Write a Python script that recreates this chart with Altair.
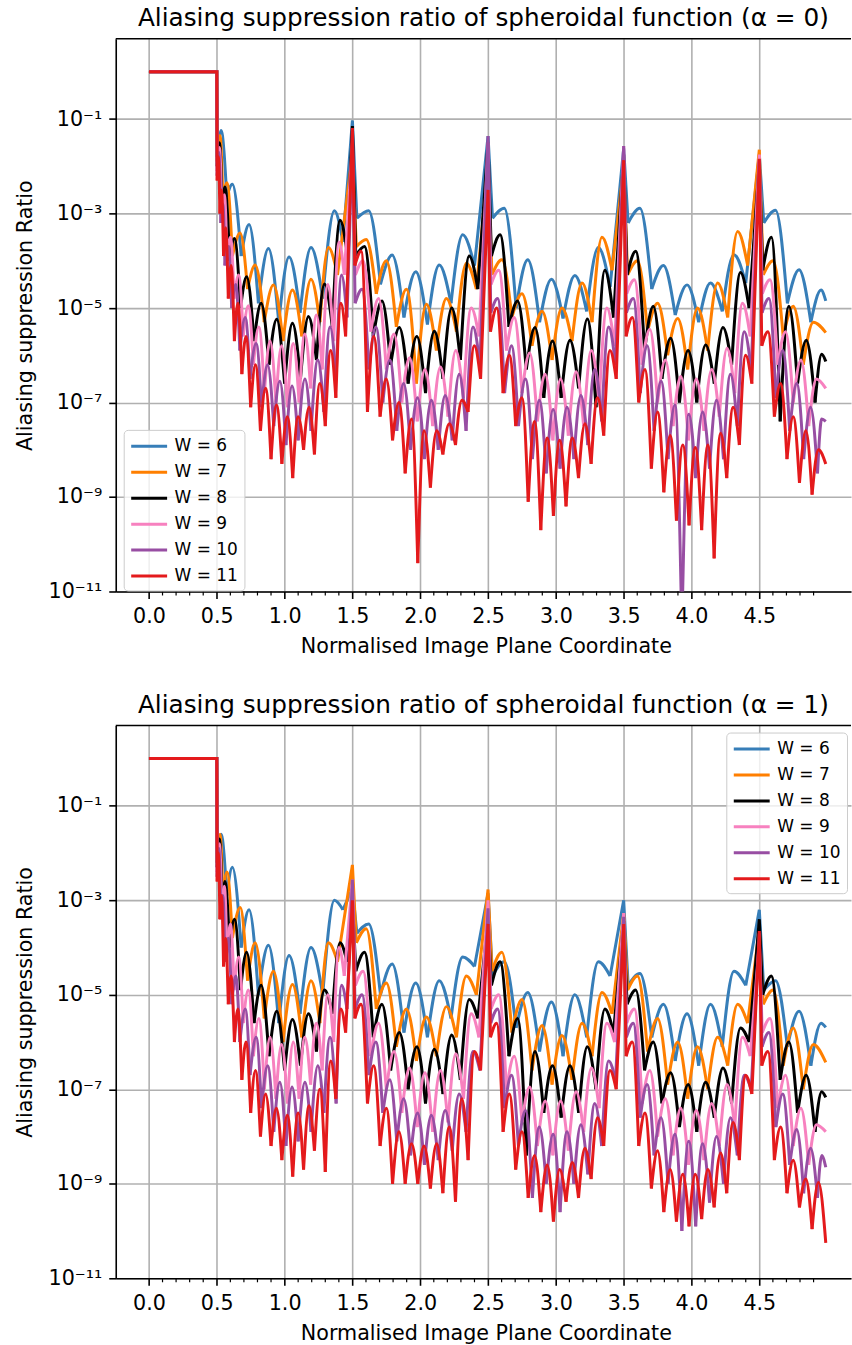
import altair as alt
import pandas as pd

FONT = "DejaVu Sans"
W_LIST = [6, 7, 8, 9, 10, 11]
LABELS = ["W = 6", "W = 7", "W = 8", "W = 9", "W = 10", "W = 11"]
COLORS = ["#377eb8", "#ff7f00", "#000000", "#f781bf", "#984ea3", "#e41a1c"]
TITLES = ["Aliasing suppression ratio of spheroidal function (α = 0)",
          "Aliasing suppression ratio of spheroidal function (α = 1)"]
X_TITLE = "Normalised Image Plane Coordinate"
Y_TITLE = "Aliasing suppression Ratio"
X_TICKS = [0.0, 0.5, 1.0, 1.5, 2.0, 2.5, 3.0, 3.5, 4.0, 4.5]
X_MINOR = [0.1, 0.2, 0.3, 0.4, 0.6, 0.7, 0.8, 0.9, 1.1, 1.2, 1.3, 1.4, 1.6, 1.7, 1.8, 1.9,
           2.1, 2.2, 2.3, 2.4, 2.6, 2.7, 2.8, 2.9, 3.1, 3.2, 3.3, 3.4, 3.6, 3.7, 3.8, 3.9,
           4.1, 4.2, 4.3, 4.4, 4.6, 4.7, 4.8, 4.9]
Y_TICKS = [1e-11, 1e-9, 1e-7, 1e-5, 1e-3, 1e-1]
Y_LABELS = ["10⁻¹¹", "10⁻⁹", "10⁻⁷", "10⁻⁵", "10⁻³", "10⁻¹"]
SPIKE_X = [1.5, 2.5, 3.5, 4.5]

# flat part before the drop (log10 of the ratio)
HEAD_X = [0.0, 0.5]
HEAD_LOG = [0.0, 0.0]

# vertex positions (null, peak, null, peak, ...), per kernel width
X6 = [0.503, 0.532, 0.574, 0.615, 0.68, 0.738, 0.807, 0.881, 0.957, 1.033, 1.114, 1.195, 1.281, 1.367, 1.43, 1.5,
      1.533, 1.620, 1.707, 1.793, 1.880, 1.967, 2.053, 2.140, 2.227, 2.313, 2.400, 2.5,
      2.533, 2.620, 2.707, 2.793, 2.880, 2.967, 3.053, 3.140, 3.227, 3.313, 3.400, 3.5,
      3.533, 3.620, 3.707, 3.793, 3.880, 3.967, 4.053, 4.140, 4.227, 4.313, 4.400, 4.5,
      4.533, 4.620, 4.707, 4.793, 4.880, 4.955, 4.99]
X7 = [0.503, 0.524, 0.545, 0.575, 0.615, 0.672, 0.727, 0.783, 0.85, 0.918, 0.988, 1.058, 1.127, 1.195, 1.26, 1.323, 1.39, 1.5,
      1.529, 1.602, 1.676, 1.750, 1.824, 1.898, 1.972, 2.045, 2.119, 2.193, 2.267, 2.340, 2.414, 2.5,
      2.529, 2.602, 2.676, 2.750, 2.824, 2.898, 2.972, 3.045, 3.119, 3.193, 3.267, 3.340, 3.414, 3.5,
      3.529, 3.602, 3.676, 3.750, 3.824, 3.898, 3.972, 4.045, 4.119, 4.193, 4.267, 4.340, 4.414, 4.5,
      4.529, 4.602, 4.676, 4.750, 4.824, 4.898, 4.99]
X8 = [0.503, 0.52, 0.54, 0.56, 0.595, 0.63, 0.675, 0.72, 0.775, 0.827, 0.885, 0.942, 1.0, 1.058, 1.117, 1.176, 1.235, 1.294, 1.352, 1.409, 1.46, 1.5,
      1.525, 1.589, 1.654, 1.718, 1.782, 1.846, 1.911, 1.975, 2.039, 2.104, 2.168, 2.232, 2.296, 2.361, 2.425, 2.5,
      2.525, 2.589, 2.654, 2.718, 2.782, 2.846, 2.911, 2.975, 3.039, 3.104, 3.168, 3.232, 3.296, 3.361, 3.425, 3.5,
      3.525, 3.589, 3.654, 3.718, 3.782, 3.846, 3.911, 3.975, 4.039, 4.104, 4.168, 4.232, 4.296, 4.361, 4.425, 4.5,
      4.525, 4.589, 4.654, 4.718, 4.782, 4.846, 4.911, 4.96, 4.99]
X9 = [0.503, 0.52, 0.537, 0.556, 0.575, 0.601, 0.628, 0.661, 0.695, 0.732, 0.77, 0.81, 0.851, 0.893, 0.936, 0.978, 1.021, 1.064,
      1.107, 1.149, 1.192, 1.234, 1.277, 1.319, 1.362, 1.401, 1.44, 1.5,
      1.522, 1.579, 1.636, 1.693, 1.750, 1.807, 1.864, 1.921, 1.978, 2.035, 2.092, 2.149, 2.205, 2.262, 2.319, 2.376, 2.433, 2.5,
      2.522, 2.579, 2.636, 2.693, 2.750, 2.807, 2.864, 2.921, 2.978, 3.035, 3.092, 3.149, 3.205, 3.262, 3.319, 3.376, 3.433, 3.5,
      3.522, 3.579, 3.636, 3.693, 3.750, 3.807, 3.864, 3.921, 3.978, 4.035, 4.092, 4.149, 4.205, 4.262, 4.319, 4.376, 4.433, 4.5,
      4.522, 4.579, 4.636, 4.693, 4.750, 4.807, 4.864, 4.921, 4.99]
X10 = [0.503, 0.515, 0.53, 0.545, 0.56, 0.585, 0.61, 0.64, 0.67, 0.71, 0.745, 0.79, 0.83, 0.875, 0.92, 0.965, 1.01, 1.055,
       1.10, 1.15, 1.195, 1.245, 1.29, 1.335, 1.38, 1.42, 1.46, 1.5,
       1.520, 1.571, 1.622, 1.673, 1.724, 1.776, 1.827, 1.878, 1.929, 1.980, 2.031, 2.082, 2.133, 2.184, 2.236, 2.287, 2.338, 2.389, 2.440, 2.5,
       2.520, 2.571, 2.622, 2.673, 2.724, 2.776, 2.827, 2.878, 2.929, 2.980, 3.031, 3.082, 3.133, 3.184, 3.236, 3.287, 3.338, 3.389, 3.440, 3.5,
       3.520, 3.571, 3.622, 3.673, 3.724, 3.776, 3.827, 3.878, 3.929, 3.980, 4.031, 4.082, 4.133, 4.184, 4.236, 4.287, 4.338, 4.389, 4.440, 4.5,
       4.520, 4.571, 4.622, 4.673, 4.724, 4.776, 4.827, 4.878, 4.929, 4.96, 4.99]
X11 = [0.503, 0.512, 0.523, 0.535, 0.55, 0.565, 0.585, 0.605, 0.63, 0.655, 0.685, 0.715, 0.75, 0.785, 0.822, 0.86, 0.9, 0.94,
       0.98, 1.02, 1.06, 1.1, 1.14, 1.18, 1.22, 1.26, 1.30, 1.34, 1.378, 1.415, 1.45, 1.5,
       1.518, 1.564, 1.611, 1.657, 1.704, 1.750, 1.796, 1.843, 1.889, 1.936, 1.982, 2.028, 2.075, 2.121, 2.167, 2.214, 2.260, 2.307, 2.353, 2.399, 2.445, 2.5,
       2.518, 2.564, 2.611, 2.657, 2.704, 2.750, 2.796, 2.843, 2.889, 2.936, 2.982, 3.028, 3.075, 3.121, 3.167, 3.214, 3.260, 3.307, 3.353, 3.399, 3.445, 3.5,
       3.518, 3.564, 3.611, 3.657, 3.704, 3.750, 3.796, 3.843, 3.889, 3.936, 3.982, 4.028, 4.075, 4.121, 4.167, 4.214, 4.260, 4.307, 4.353, 4.399, 4.445, 4.5,
       4.518, 4.564, 4.611, 4.657, 4.704, 4.750, 4.796, 4.843, 4.889, 4.936, 4.99]

# log10 of the ratio at those vertices, alpha = 0 (top panel)
TOP6 = [-1.8, -1.24, -2.65, -2.38, -3.9, -3.23, -4.9, -3.74, -5.3, -3.92, -5.1, -3.72, -4.8, -2.94, -3.6, -1.03,
        -3.1, -2.94, -4.5, -3.88, -5.2, -4.23, -5.35, -4.09, -4.9, -3.45, -4.1, -1.36,
        -3.1, -2.89, -5.0, -3.98, -5.3, -4.39, -5.22, -4.31, -5.07, -3.72, -4.55, -1.62,
        -3.2, -2.89, -4.6, -4.1, -5.15, -4.51, -5.3, -4.47, -5.07, -3.87, -4.47, -1.75,
        -3.2, -2.93, -4.9, -4.19, -5.3, -4.62, -4.85]
TOP7 = [-1.9, -1.35, -2.7, -2.35, -3.9, -3.41, -4.6, -4.09, -5.3, -4.51, -5.7, -4.62, -5.6, -4.39, -5.3, -3.72, -4.3, -1.74,
        -3.7, -3.55, -4.7, -4.0, -5.4, -4.6, -6.6, -4.92, -5.9, -4.8, -5.5, -4.05, -4.6, -1.98,
        -4.3, -3.98, -5.2, -4.7, -5.8, -5.07, -6.1, -5.0, -5.7, -4.47, -5.3, -3.5, -4.2, -2.0,
        -4.3, -4.0, -5.5, -4.9, -6.0, -5.22, -6.3, -5.0, -5.9, -4.47, -5.2, -3.38, -4.1, -1.65,
        -4.3, -4.0, -5.6, -4.96, -6.2, -5.3, -5.52]
TOP8 = [-2.0, -1.5, -2.9, -2.44, -4.0, -3.53, -5.0, -4.34, -5.7, -4.9, -6.2, -5.24, -6.6, -5.32, -6.5, -5.18, -6.1, -4.49, -5.4, -3.14, -3.8, -1.15,
        -3.9, -3.7, -5.6, -4.85, -6.2, -5.41, -6.6, -5.6, -6.8, -5.49, -6.5, -5.0, -6.1, -3.9, -4.6, -1.5,
        -3.9, -3.45, -5.4, -4.85, -6.3, -5.41, -6.9, -5.7, -6.9, -5.68, -6.7, -5.23, -7.1, -4.2, -5.2, -1.75,
        -4.3, -3.8, -5.9, -4.96, -6.5, -5.64, -7.0, -5.9, -7.0, -5.78, -6.6, -5.41, -6.2, -4.25, -5.0, -1.9,
        -4.2, -3.5, -7.4, -4.96, -6.6, -5.68, -7.0, -5.98, -6.13]
TOP9 = [-2.1, -1.6, -3.0, -2.6, -3.9, -3.5, -4.8, -4.3, -5.6, -4.95, -6.2, -5.4, -6.8, -5.7, -7.0, -5.8, -7.1, -5.75,
        -7.0, -5.55, -6.7, -5.15, -6.3, -4.5, -5.7, -3.6, -4.3, -1.5,
        -4.3, -4.0, -5.5, -4.8, -6.3, -5.55, -7.0, -6.05, -7.4, -6.3, -7.5, -6.25, -7.3, -5.9, -6.9, -5.0, -5.6, -1.5,
        -4.5, -4.2, -5.9, -5.2, -6.8, -5.95, -7.4, -6.4, -7.8, -6.5, -7.7, -6.35, -7.5, -5.9, -7.0, -5.0, -5.8, -1.57,
        -4.7, -4.4, -6.2, -5.45, -7.0, -6.1, -7.5, -6.45, -7.8, -6.5, -7.6, -6.3, -7.3, -5.85, -6.8, -4.9, -5.6, -1.75,
        -4.7, -4.4, -6.2, -5.5, -7.0, -6.1, -7.5, -6.5, -6.7]
TOP10 = [-2.2, -1.7, -3.2, -2.8, -4.1, -3.7, -5.0, -4.5, -5.9, -5.2, -6.5, -5.75, -7.1, -6.2, -7.5, -6.55, -7.9, -6.65,
         -7.8, -6.5, -7.6, -6.1, -7.2, -5.4, -6.5, -4.3, -5.2, -1.4,
         -4.9, -4.6, -6.3, -5.4, -7.0, -6.1, -7.6, -6.6, -8.0, -6.9, -8.2, -6.95, -8.0, -6.85, -7.8, -6.4, -7.6, -5.4, -6.2, -1.36,
         -5.1, -4.8, -6.8, -5.8, -7.5, -6.5, -8.2, -6.95, -8.5, -7.15, -8.4, -7.1, -8.2, -6.85, -7.9, -6.3, -7.4, -5.4, -6.2, -1.57,
         -5.1, -4.8, -6.8, -5.8, -7.6, -6.55, -8.2, -7.05, -11.8, -7.25, -8.6, -7.2, -8.4, -6.95, -8.2, -6.4, -7.5, -5.5, -6.3, -1.85,
         -5.1, -4.8, -6.9, -5.9, -7.6, -6.6, -8.2, -7.1, -8.5, -7.35, -7.4]
TOP11 = [-2.3, -1.8, -3.0, -2.5, -3.9, -3.3, -4.8, -4.1, -5.7, -4.9, -6.4, -5.6, -7.1, -6.2, -7.6, -6.7, -8.2, -7.05,
         -8.3, -7.3, -8.6, -7.3, -8.0, -7.1, -8.1, -6.6, -7.5, -5.9, -6.9, -4.9, -5.6, -1.19,
         -4.1, -3.8, -7.2, -5.6, -7.3, -6.5, -7.8, -7.0, -8.5, -7.35, -10.4, -7.6, -8.8, -7.6, -8.1, -7.45, -7.9, -6.95, -7.2, -5.8, -6.5, -2.5,
         -5.5, -5.0, -6.8, -6.0, -7.5, -6.9, -9.1, -7.4, -9.7, -7.75, -9.4, -7.8, -9.2, -7.75, -8.6, -7.45, -8.3, -6.9, -7.7, -5.9, -6.5, -1.87,
         -5.6, -5.2, -7.0, -6.3, -8.4, -7.2, -8.9, -7.7, -9.5, -7.9, -9.6, -7.95, -9.7, -7.9, -10.3, -7.65, -8.6, -7.1, -7.9, -6.0, -6.6, -1.84,
         -5.8, -5.5, -7.3, -6.6, -8.2, -7.3, -8.7, -7.6, -8.95, -8.0, -8.3]

# log10 of the ratio at those vertices, alpha = 1 (bottom panel)
BOT6 = [-2.2, -1.6, -2.9, -2.3, -4.0, -3.2, -5.0, -3.95, -5.6, -4.17, -5.4, -4.0, -5.0, -3.0, -3.2, -2.75,
        -3.7, -3.5, -5.0, -4.35, -5.8, -4.75, -5.9, -4.7, -5.5, -4.2, -4.4, -2.85,
        -4.6, -4.3, -5.7, -4.95, -6.2, -5.15, -6.3, -5.0, -5.9, -4.3, -4.6, -3.0,
        -4.8, -4.55, -5.9, -5.2, -6.4, -5.4, -6.5, -5.2, -6.1, -4.5, -4.8, -3.2,
        -4.9, -4.7, -6.1, -5.35, -6.5, -5.6, -5.69]
BOT7 = [-2.2, -1.6, -2.9, -2.4, -3.8, -3.15, -4.7, -3.9, -5.5, -4.5, -6.0, -4.78, -5.9, -4.7, -5.6, -3.9, -4.3, -2.25,
        -3.9, -3.6, -5.3, -4.75, -6.1, -5.3, -6.4, -5.47, -6.3, -5.25, -5.9, -4.6, -5.0, -2.77,
        -4.5, -4.1, -5.8, -5.1, -6.6, -5.65, -6.9, -5.86, -6.8, -5.6, -6.3, -4.95, -5.4, -3.27,
        -4.9, -4.6, -6.2, -5.5, -6.9, -6.0, -7.2, -6.1, -7.0, -5.9, -6.5, -5.2, -5.6, -3.6,
        -5.2, -4.9, -6.5, -5.7, -7.0, -6.05, -6.43]
BOT8 = [-2.3, -1.7, -3.1, -2.6, -4.0, -3.4, -4.9, -4.1, -5.6, -4.8, -6.3, -5.35, -6.6, -5.52, -6.5, -5.4, -6.2, -4.9, -5.4, -3.9, -4.3, -3.0,
        -4.5, -4.1, -5.9, -5.2, -6.6, -5.8, -7.0, -6.1, -7.3, -6.15, -7.1, -5.85, -6.8, -5.1, -5.5, -3.4,
        -4.8, -4.3, -6.3, -5.5, -8.4, -6.2, -7.5, -6.5, -7.6, -6.5, -7.5, -6.1, -7.0, -5.3, -5.8, -3.44,
        -5.2, -4.9, -6.6, -6.0, -7.3, -6.65, -7.8, -6.9, -7.9, -6.85, -7.6, -6.55, -7.3, -5.7, -6.0, -3.4,
        -5.0, -4.6, -6.8, -6.0, -7.5, -6.7, -7.9, -7.05, -7.17]
BOT9 = [-2.4, -1.8, -3.2, -2.7, -4.1, -3.5, -4.9, -4.2, -5.6, -4.9, -6.3, -5.5, -7.0, -5.9, -7.2, -6.05, -7.3, -6.0,
        -7.2, -5.9, -6.9, -5.6, -6.6, -5.0, -6.0, -4.0, -4.6, -2.56,
        -4.8, -4.5, -6.3, -5.6, -7.0, -6.2, -7.5, -6.55, -7.8, -6.65, -7.9, -6.6, -7.7, -6.25, -7.2, -5.4, -5.9, -3.0,
        -5.3, -5.0, -7.0, -6.3, -7.7, -6.95, -8.2, -7.25, -8.4, -7.25, -8.3, -7.05, -7.9, -6.55, -7.4, -5.6, -6.0, -3.27,
        -5.6, -5.3, -7.3, -6.6, -8.0, -7.2, -8.4, -7.4, -8.6, -7.45, -8.5, -7.3, -8.2, -6.9, -7.8, -5.9, -6.3, -3.9,
        -5.8, -5.5, -7.4, -6.7, -8.2, -7.4, -8.6, -7.75, -7.9]
BOT10 = [-2.5, -1.9, -3.4, -2.9, -4.3, -3.8, -5.2, -4.6, -6.0, -5.3, -6.7, -5.9, -7.4, -6.5, -7.9, -6.85, -8.2, -6.95,
         -8.1, -6.85, -7.9, -6.5, -7.5, -5.9, -7.3, -4.8, -5.3, -2.56,
         -5.3, -5.0, -6.7, -6.0, -7.5, -6.8, -8.1, -7.2, -8.4, -7.5, -8.6, -7.55, -8.5, -7.45, -8.3, -7.1, -7.9, -6.2, -6.6, -3.17,
         -5.6, -5.3, -7.4, -6.7, -8.2, -7.45, -9.3, -7.8, -9.0, -7.95, -9.6, -7.9, -9.0, -7.75, -8.8, -7.3, -8.2, -6.4, -6.8, -3.35,
         -5.9, -5.6, -7.6, -6.9, -8.4, -7.6, -9.0, -7.95, -10.0, -8.1, -9.9, -8.15, -9.4, -8.0, -9.0, -7.6, -8.4, -6.7, -7.0, -3.7,
         -6.1, -5.8, -7.8, -7.1, -8.6, -7.85, -9.2, -8.25, -9.3, -8.4, -8.65]
BOT11 = [-2.6, -2.0, -3.4, -2.9, -4.4, -3.8, -5.2, -4.6, -6.0, -5.3, -6.8, -6.0, -7.5, -6.6, -8.0, -7.1, -8.2, -7.4,
         -8.5, -7.55, -8.85, -7.5, -8.7, -7.35, -8.3, -7.0, -8.75, -6.4, -7.2, -5.3, -5.8, -3.0,
         -5.5, -5.2, -7.3, -6.5, -8.2, -7.4, -9.0, -7.9, -9.0, -8.15, -9.0, -8.2, -9.1, -8.15, -9.2, -7.8, -9.38, -7.2, -8.5, -6.2, -6.6, -3.5,
         -5.9, -5.6, -7.9, -7.1, -8.7, -7.9, -9.3, -8.4, -9.6, -8.6, -9.8, -8.7, -9.38, -8.55, -9.3, -8.25, -8.9, -7.6, -8.2, -6.6, -7.0, -3.5,
         -6.3, -6.0, -8.2, -7.5, -9.1, -8.3, -9.6, -8.7, -9.8, -8.8, -9.9, -8.8, -9.75, -8.7, -9.5, -8.35, -9.2, -7.7, -8.5, -6.7, -7.1, -3.65,
         -6.5, -6.2, -8.5, -7.8, -9.2, -8.5, -9.5, -8.9, -9.96, -8.97, -10.25]

X_ALL = [X6, X7, X8, X9, X10, X11]
TOP_ALL = [TOP6, TOP7, TOP8, TOP9, TOP10, TOP11]
BOT_ALL = [BOT6, BOT7, BOT8, BOT9, BOT10, BOT11]

PLOT_W, PLOT_H = 737, 554
X_DOMAIN = [-0.245, 5.176]
Y_DOMAIN = [1e-11, 5]


def panel_rows(values):
    rows = []
    for w, lab, xs, vs in zip(W_LIST, LABELS, X_ALL, values):
        if len(xs) != len(vs):
            raise ValueError(f"length mismatch for W={w}: {len(xs)} vs {len(vs)}")
        hx = HEAD_X + [xs[0]]
        hv = HEAD_LOG + [vs[0]]
        for k in range(3):
            rows.append({"W": lab, "seg": f"{w}-h", "kind": "lin", "o": k, "x": hx[k], "y": 10 ** hv[k]})
        for i in range(1, len(xs) - 1, 2):
            kind = "lin" if xs[i] in SPIKE_X else "mono"
            for k in range(3):
                rows.append({"W": lab, "seg": f"{w}-{i}", "kind": kind, "o": k,
                             "x": xs[i - 1 + k], "y": 10 ** vs[i - 1 + k]})
    return pd.DataFrame(rows)


parts = [f"datum.value < {v * 3:.0e} ? '{lab}'" for v, lab in zip(Y_TICKS[:-1], Y_LABELS[:-1])]
LABEL_EXPR = " : ".join(parts) + f" : '{Y_LABELS[-1]}'"

x_axis = alt.Axis(values=X_TICKS, format=".1f", title=X_TITLE, labelFont=FONT, titleFont=FONT,
                  labelFontSize=20.7, titleFontSize=20.7, titleFontWeight="normal",
                  labelColor="black", titleColor="black", tickColor="black", tickSize=7, tickWidth=1.6,
                  domainColor="black", domainWidth=1.6, grid=True, gridColor="#b0b0b0", gridWidth=1.6,
                  labelBaseline="alphabetic", labelPadding=24.5, labelFlush=False, labelOverlap=False,
                  minExtent=32, maxExtent=32, titlePadding=29, titleBaseline="alphabetic", titleX=371)
y_axis = alt.Axis(values=Y_TICKS, labelExpr=LABEL_EXPR, title=Y_TITLE, labelFont=FONT, titleFont=FONT,
                  labelFontSize=20.7, titleFontSize=20.7, titleFontWeight="normal",
                  labelColor="black", titleColor="black", tickColor="black", tickSize=7, tickWidth=1.6,
                  domainColor="black", domainWidth=1.6, grid=True, gridColor="#b0b0b0", gridWidth=1.6,
                  labelPadding=7, labelFlush=False, labelOverlap=False, labelBaseline="middle",
                  minExtent=69, maxExtent=69, titlePadding=15, titleBaseline="alphabetic")

X_SCALE = alt.Scale(domain=X_DOMAIN, nice=False, zero=False)


def panel(values, title, lx, ly):
    df = panel_rows(values)
    leg = alt.Legend(title=None, orient="none", legendX=lx, legendY=ly, direction="vertical",
                     fillColor="rgba(255,255,255,0.8)", strokeColor="#cccccc", cornerRadius=4,
                     padding=6, labelFont=FONT, labelFontSize=17, labelColor="black",
                     symbolType="M-2,0H2", symbolSize=324, symbolStrokeWidth=3, symbolOffset=9,
                     labelOffset=15, rowPadding=7)
    color = alt.Color("W:N", scale=alt.Scale(domain=LABELS, range=COLORS), legend=leg)
    xenc = alt.X("x:Q", scale=X_SCALE, axis=x_axis)
    yenc = alt.Y("y:Q", scale=alt.Scale(type="log", domain=Y_DOMAIN, nice=False), axis=y_axis)
    layers = []
    for lab in LABELS:
        for kind, interp in (("lin", "linear"), ("mono", "monotone")):
            layers.append(
                alt.Chart().mark_line(interpolate=interp, strokeWidth=3, clip=True)
                .encode(x=xenc, y=yenc, color=color, detail="seg:N", order="o:Q")
                .transform_filter((alt.datum.W == lab) & (alt.datum.kind == kind))
            )
    minor = alt.Chart(pd.DataFrame({"x": X_MINOR})).mark_rule(color="black", strokeWidth=1.2).encode(
        x=xenc, y=alt.value(PLOT_H), y2=alt.value(PLOT_H + 4))
    topline = alt.Chart(pd.DataFrame({"a": [0]})).mark_rule(color="black", strokeWidth=1.6).encode(
        x=alt.value(0), x2=alt.value(PLOT_W), y=alt.value(0))
    return alt.layer(*layers, minor, topline, data=df).properties(
        width=PLOT_W, height=PLOT_H,
        title=alt.TitleParams(text=title, font=FONT, fontSize=24.8, fontWeight="normal", color="black",
                              anchor="middle", baseline="alphabetic", offset=-13, frame="group"))


top = panel(TOP_ALL, TITLES[0], 8, 392)
bottom = panel(BOT_ALL, TITLES[1], 612, 7)

chart = alt.vconcat(top, bottom, spacing=36.4).resolve_scale(color="independent").resolve_legend(
    color="independent").properties(
    padding={"left": 15, "top": 4.3, "right": 0, "bottom": 0}, background="white"
).configure_view(stroke=None)

chart.save("out.html", embed_options={"renderer": "svg", "actions": False})
